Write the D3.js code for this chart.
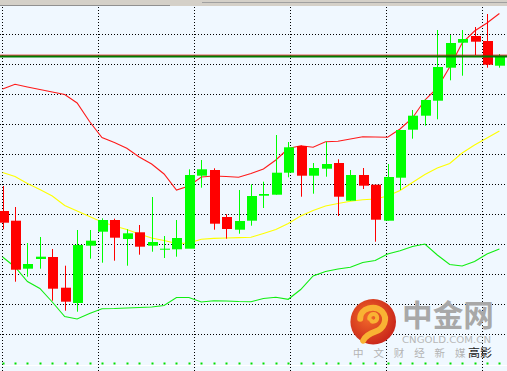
<!DOCTYPE html>
<html lang="en">
<head>
  <meta charset="UTF-8">
  <title>Candlestick Chart</title>
  <script src="https://cdn.jsdelivr.net/npm/d3@7"></script>
  <style>
    body { margin: 0; background: #f0f8ff; }
    svg { display: block; }
  </style>
</head>
<body>
<svg id="chart"></svg>
<script>
  // OHLC per bar (41 bars)
  const opens  = [1312.30, 1311.33, 1306.53, 1307.50, 1307.70, 1304.63, 1303.10, 1308.83, 1310.23, 1311.40, 1309.50, 1310.17, 1308.83, 1308.47, 1308.47, 1308.53, 1315.83, 1316.40, 1311.70, 1310.43, 1311.33, 1313.83, 1313.93, 1316.13, 1318.80, 1315.83, 1316.53, 1317.10, 1313.33, 1315.90, 1314.93, 1311.33, 1315.63, 1320.43, 1321.83, 1323.33, 1326.63, 1329.13, 1329.80, 1329.30, 1326.83];
  const highs  = [1314.80, 1312.70, 1309.10, 1309.70, 1308.50, 1306.83, 1310.40, 1310.40, 1311.57, 1311.53, 1310.47, 1310.90, 1313.70, 1309.80, 1311.40, 1316.47, 1317.40, 1316.57, 1311.97, 1314.40, 1314.97, 1315.23, 1319.90, 1319.20, 1318.85, 1317.10, 1319.23, 1317.47, 1316.40, 1316.60, 1314.93, 1317.00, 1320.40, 1322.40, 1323.47, 1330.40, 1329.90, 1330.40, 1330.70, 1332.00, 1328.00];
  const lows   = [1310.47, 1305.23, 1305.73, 1306.53, 1303.33, 1302.33, 1302.23, 1307.53, 1307.13, 1307.33, 1306.83, 1307.93, 1308.23, 1307.60, 1307.73, 1309.07, 1314.63, 1310.43, 1309.53, 1310.03, 1310.83, 1312.60, 1313.93, 1315.67, 1313.73, 1314.03, 1315.73, 1311.80, 1313.33, 1314.50, 1309.23, 1311.33, 1314.40, 1319.53, 1320.83, 1321.47, 1325.37, 1325.83, 1327.90, 1326.63, 1326.63];
  const closes = [1311.13, 1306.43, 1307.00, 1307.73, 1304.53, 1303.23, 1308.90, 1309.33, 1311.40, 1309.63, 1310.07, 1308.73, 1309.20, 1308.53, 1309.60, 1315.90, 1316.47, 1311.03, 1310.50, 1311.30, 1313.80, 1314.00, 1316.13, 1318.67, 1315.83, 1316.60, 1317.00, 1313.73, 1315.90, 1314.83, 1311.43, 1315.70, 1320.40, 1321.83, 1323.40, 1326.70, 1329.10, 1329.50, 1329.23, 1326.93, 1327.80];

  // Bollinger bands
  const upperBand  = [1324.50, 1324.97, 1324.70, 1324.45, 1324.20, 1323.95, 1323.10, 1321.25, 1319.64, 1319.14, 1318.57, 1317.70, 1317.00, 1316.00, 1314.40, 1314.80, 1315.70, 1315.80, 1315.75, 1315.67, 1316.05, 1316.50, 1317.40, 1318.55, 1318.83, 1318.67, 1319.23, 1319.27, 1319.50, 1319.73, 1319.70, 1319.67, 1320.50, 1321.60, 1323.40, 1324.60, 1326.70, 1329.10, 1330.30, 1331.10, 1332.05];
  const middleBand = [1316.15, 1315.75, 1315.05, 1314.45, 1313.80, 1312.85, 1312.30, 1311.75, 1311.20, 1310.80, 1310.45, 1310.00, 1309.60, 1309.35, 1309.05, 1309.10, 1309.47, 1309.56, 1309.60, 1309.64, 1309.67, 1310.05, 1310.45, 1311.05, 1311.80, 1312.35, 1312.80, 1313.05, 1313.27, 1313.42, 1313.50, 1313.80, 1314.35, 1315.15, 1315.95, 1316.60, 1317.05, 1318.10, 1318.90, 1319.60, 1320.30];
  const lowerBand  = [1307.70, 1306.70, 1305.25, 1304.55, 1303.20, 1301.75, 1301.50, 1302.05, 1302.53, 1302.55, 1302.60, 1302.65, 1302.70, 1302.85, 1303.65, 1303.65, 1303.20, 1303.33, 1303.30, 1303.25, 1303.23, 1303.55, 1303.67, 1303.47, 1304.45, 1305.80, 1306.25, 1306.50, 1306.67, 1307.15, 1307.35, 1308.00, 1308.32, 1308.75, 1309.00, 1307.90, 1306.95, 1306.80, 1307.25, 1308.00, 1308.50];

  // price grid and horizontal levels
  const gridPrices = [1300, 1303, 1306, 1309, 1312, 1315, 1318, 1321, 1324, 1327, 1330];
  const redLevel = 1327.88;
  const greenLevel = 1327.75;

  const width = 507, height = 371;
  const svg = d3.select("#chart").attr("width", width).attr("height", height);

  const bars = opens.map((o, i) => ({ i, o, h: highs[i], l: lows[i], c: closes[i] }));

  const x = d3.scaleLinear().domain([0, bars.length - 1]).range([2.6, 499.4]);
  const y = d3.scaleLinear().domain([1300, 1330]).range([334, 34]);

  svg.append("rect").attr("width", width).attr("height", height).attr("fill", "#f0f8ff");

  // grid, dotted
  svg.append("g").selectAll("line").data(gridPrices).join("line")
    .attr("x1", 0).attr("x2", width)
    .attr("y1", d => Math.round(y(d)) + 0.5).attr("y2", d => Math.round(y(d)) + 0.5)
    .attr("stroke", "#000").attr("stroke-dasharray", "1,2");

  const vGrid = d3.range(6).map(k => 2.7 + 96 * k);
  svg.append("g").selectAll("line").data(vGrid).join("line")
    .attr("x1", d => Math.floor(d) + 0.5).attr("x2", d => Math.floor(d) + 0.5)
    .attr("y1", 7).attr("y2", height)
    .attr("stroke", "#000").attr("stroke-dasharray", "1,2");

  // bands
  const line = d3.line().x((d, i) => x(i)).y(d => y(d));
  svg.append("path").datum(upperBand).attr("d", line).attr("fill", "none").attr("stroke", "#ff1a1a").attr("stroke-width", 1.1);
  svg.append("path").datum(middleBand).attr("d", line).attr("fill", "none").attr("stroke", "#ffff00").attr("stroke-width", 1.1);
  svg.append("path").datum(lowerBand).attr("d", line).attr("fill", "none").attr("stroke", "#11ee11").attr("stroke-width", 1.1);

  // candles
  const up = "#00ff00", down = "#ff0000";
  const candle = svg.append("g").selectAll("g").data(bars).join("g");
  candle.append("line")
    .attr("x1", d => Math.round(x(d.i)) + 0.5).attr("x2", d => Math.round(x(d.i)) + 0.5)
    .attr("y1", d => y(d.h)).attr("y2", d => y(d.l))
    .attr("stroke", d => d.c >= d.o ? up : down);
  candle.append("rect")
    .attr("x", d => Math.round(x(d.i)) - 4)
    .attr("width", 10)
    .attr("y", d => y(Math.max(d.o, d.c)))
    .attr("height", d => Math.max(1, Math.abs(y(d.o) - y(d.c))))
    .attr("fill", d => d.c >= d.o ? up : down);

  // bottom markers under each bar
  svg.append("g").selectAll("rect").data(bars).join("rect")
    .attr("x", d => Math.round(x(d.i)) - 0.5).attr("y", 362.5)
    .attr("width", 2).attr("height", 2).attr("fill", "#00e000");
  svg.append("line").attr("x1", 0).attr("x2", width).attr("y1", 365.5).attr("y2", 365.5)
    .attr("stroke", "#ffffff");

  // horizontal levels
  svg.append("line").attr("x1", 0).attr("x2", width)
    .attr("y1", y(redLevel)).attr("y2", y(redLevel)).attr("stroke", "#e00000");
  svg.append("line").attr("x1", 0).attr("x2", width)
    .attr("y1", y(greenLevel)).attr("y2", y(greenLevel)).attr("stroke", "#007a00").attr("stroke-width", 2);

  // top window edge
  svg.append("rect").attr("width", width).attr("height", 6).attr("fill", "#d4d0c8");
  svg.append("line").attr("x1", 0).attr("x2", 170).attr("y1", 5.5).attr("y2", 5.5).attr("stroke", "#909090");
  svg.append("line").attr("x1", 202).attr("x2", width).attr("y1", 2.5).attr("y2", 2.5).attr("stroke", "#a0a0a0");

  // watermark
  const defs = svg.append("defs");
  const grad = defs.append("radialGradient").attr("id", "logoGrad").attr("cx", "40%").attr("cy", "40%").attr("r", "65%");
  grad.append("stop").attr("offset", "0%").attr("stop-color", "#f26a2a");
  grad.append("stop").attr("offset", "100%").attr("stop-color", "#c8241a");

  const logo = svg.append("g").attr("transform", "translate(373.2,321.7)");
  logo.append("circle").attr("r", 22.8).attr("fill", "url(#logoGrad)");
  logo.append("path")
    .attr("d", "M -13,-3 C -13,-14 2,-17 9,-10 C 15,-3 11,7 2,10 C -4,12 -8,15 -10,19")
    .attr("fill", "none").attr("stroke", "#f9b233").attr("stroke-width", 6).attr("stroke-linecap", "round");
  logo.append("path")
    .attr("d", "M -4,-3 C -4,-9 4,-9 4,-4 C 4,0 -1,1 -2,-1")
    .attr("fill", "none").attr("stroke", "#f9b233").attr("stroke-width", 4).attr("stroke-linecap", "round");

  svg.append("text").attr("x", 402).attr("y", 326)
    .attr("font-family", "'Noto Sans CJK SC'").attr("font-weight", "bold").attr("font-size", 30)
    .attr("textLength", 92).attr("lengthAdjust", "spacingAndGlyphs")
    .attr("fill", "#a8a8a8").text("中金网");
  svg.append("text").attr("x", 402).attr("y", 343)
    .attr("font-family", "DejaVu Sans").attr("font-size", 8.5)
    .attr("textLength", 89).attr("lengthAdjust", "spacingAndGlyphs")
    .attr("fill", "#b8b8b8").text("CNGOLD.COM.CN");
  svg.append("text").attr("x", 353).attr("y", 357)
    .attr("font-family", "'Noto Sans CJK SC'").attr("font-size", 10.5)
    .attr("textLength", 92).attr("lengthAdjust", "spacing")
    .attr("fill", "#b4b4b4").text("中文财经新");
  svg.append("text").attr("x", 455).attr("y", 357)
    .attr("font-family", "'Noto Sans CJK SC'").attr("font-size", 10.5)
    .attr("fill", "#b4b4b4").text("媒");
  svg.append("text").attr("x", 468).attr("y", 357)
    .attr("font-family", "'Noto Sans CJK SC'").attr("font-size", 11.5)
    .attr("textLength", 24).attr("lengthAdjust", "spacingAndGlyphs")
    .attr("fill", "#222").text("高影");
</script>
</body>
</html>
